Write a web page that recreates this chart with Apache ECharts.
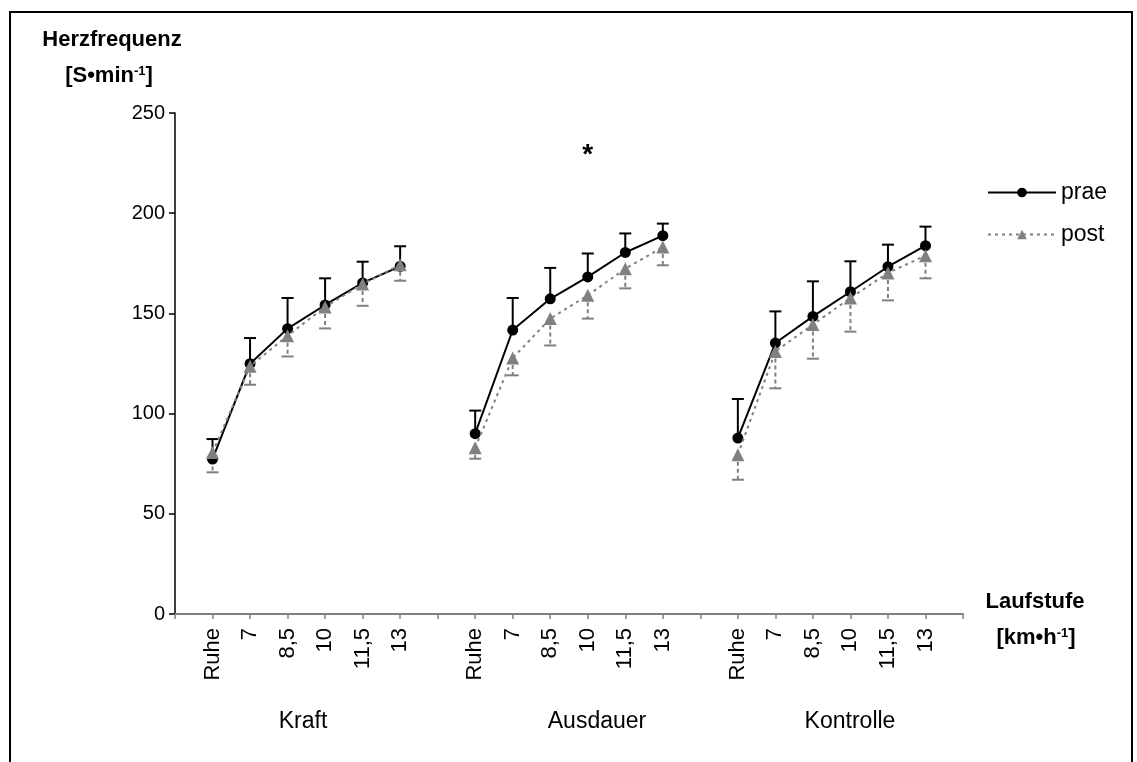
<!DOCTYPE html>
<html>
<head>
<meta charset="utf-8">
<script src="https://cdn.jsdelivr.net/npm/echarts@6/dist/echarts.min.js"></script>
<style>
  html, body { margin: 0; padding: 0; background: #fff; }
  #chart { width: 1137px; height: 762px; }
</style>
</head>
<body>
<div id="chart"></div>
<script>
// Gruppen und Laufstufen
var groups = ["Kraft", "Ausdauer", "Kontrolle"];
var stages = ["Ruhe", "7", "8,5", "10", "11,5", "13"];

// Mittelwerte prae / post je Gruppe (Herzfrequenz)
var praeKraft = [77.3, 124.9, 142.4, 154.2, 165.2, 173.5];
var postKraft = [80.6, 123.6, 138.9, 153.2, 164.7, 174.3];
var praeAusdauer = [90.0, 141.7, 157.3, 168.2, 180.4, 188.8];
var postAusdauer = [83.0, 127.7, 147.4, 159.0, 172.3, 183.1];
var praeKontrolle = [87.8, 135.2, 148.5, 160.8, 173.3, 183.8];
var postKontrolle = [79.5, 131.0, 144.4, 157.7, 170.2, 178.8];

// Standardabweichungen (prae nach oben, post nach unten)
var praeSdKraft = [10.0, 12.8, 15.3, 13.3, 10.6, 10.0];
var postSdKraft = [9.9, 9.2, 10.4, 10.7, 10.9, 8.0];
var praeSdAusdauer = [11.5, 16.0, 15.4, 11.7, 9.5, 6.0];
var postSdAusdauer = [5.5, 8.6, 13.4, 11.6, 9.8, 9.1];
var praeSdKontrolle = [19.5, 15.8, 17.5, 15.2, 11.0, 9.5];
var postSdKontrolle = [12.5, 18.4, 17.0, 16.8, 13.7, 11.3];

var yTicks = [0, 50, 100, 150, 200, 250];

// Signifikanz-Stern: Ausdauer, Laufstufe 10
var starGroup = 1, starStage = 3, starValue = 229;

var FONT = "Liberation Sans, Arial, sans-serif";

// Kategorien mit Leerstellen zwischen den Gruppen
var categories = [""];
groups.forEach(function () {
  stages.forEach(function (s) { categories.push(s); });
  categories.push("");
});

function spread(lists) {
  var out = [null];
  lists.forEach(function (l) {
    l.forEach(function (v) { out.push(v); });
    out.push(null);
  });
  return out;
}
function errData(lists, sds) {
  var out = [];
  lists.forEach(function (l, g) {
    l.forEach(function (v, i) {
      out.push([1 + g * (stages.length + 1) + i, v, sds[g][i]]);
    });
  });
  return out;
}

var praeData = spread([praeKraft, praeAusdauer, praeKontrolle]);
var postData = spread([postKraft, postAusdauer, postKontrolle]);
var praeErr = errData([praeKraft, praeAusdauer, praeKontrolle], [praeSdKraft, praeSdAusdauer, praeSdKontrolle]);
var postErr = errData([postKraft, postAusdauer, postKontrolle], [postSdKraft, postSdAusdauer, postSdKontrolle]);

function errorBar(dir, color, dash) {
  return function (params, api) {
    var x = api.value(0), v = api.value(1), sd = api.value(2);
    var p0 = api.coord([x, v]);
    var p1 = api.coord([x, v + dir * sd]);
    return {
      type: "group",
      children: [
        { type: "line", shape: { x1: p0[0], y1: p0[1], x2: p1[0], y2: p1[1] },
          style: { stroke: color, lineWidth: 2, lineDash: dash } },
        { type: "line", shape: { x1: p1[0] - 6, y1: p1[1], x2: p1[0] + 6, y2: p1[1] },
          style: { stroke: color, lineWidth: 2 } }
      ]
    };
  };
}

var chart = echarts.init(document.getElementById("chart"));

var option = {
  animation: false,
  backgroundColor: "#fff",
  textStyle: { fontFamily: FONT },
  grid: { left: 175, top: 113, width: 788, height: 501 },
  legend: {
    data: ["prae", "post"],
    orient: "vertical",
    left: 982,
    top: 176,
    itemWidth: 68,
    itemHeight: 12,
    itemGap: 19,
    textStyle: { fontSize: 23, color: "#000", fontFamily: FONT }
  },
  xAxis: {
    type: "category",
    data: categories,
    boundaryGap: false,
    axisLine: { lineStyle: { color: "#808080", width: 2 } },
    axisTick: { length: 5, lineStyle: { color: "#808080", width: 1.5 }, interval: 0 },
    axisLabel: { interval: 0, rotate: 90, fontSize: 22, color: "#000", margin: 14, fontFamily: FONT },
    splitLine: { show: false }
  },
  yAxis: {
    type: "value",
    min: yTicks[0],
    max: yTicks[yTicks.length - 1],
    interval: yTicks[1] - yTicks[0],
    axisLine: { show: true, lineStyle: { color: "#000", width: 1.5 } },
    axisTick: { show: true, length: 6, lineStyle: { color: "#000", width: 1.5 } },
    axisLabel: { fontSize: 20, color: "#000", margin: 10, fontFamily: FONT },
    splitLine: { show: false }
  },
  series: [
    {
      name: "praeErr",
      type: "custom",
      renderItem: errorBar(1, "#000", null),
      data: praeErr,
      encode: { x: 0, y: 1 },
      z: 1,
      silent: true
    },
    {
      name: "postErr",
      type: "custom",
      renderItem: errorBar(-1, "#808080", [4, 3]),
      data: postErr,
      encode: { x: 0, y: 1 },
      z: 1,
      silent: true
    },
    {
      name: "prae",
      type: "line",
      data: praeData,
      color: "#000",
      symbol: "circle",
      symbolSize: 11,
      lineStyle: { color: "#000", width: 2 },
      itemStyle: { color: "#000" },
      z: 3
    },
    {
      name: "post",
      type: "line",
      data: postData,
      color: "#808080",
      symbol: "triangle",
      symbolSize: 13,
      lineStyle: { color: "#808080", width: 2, type: [3, 4] },
      itemStyle: { color: "#808080" },
      z: 4
    }
  ]
};

chart.setOption(option);

var starPos = chart.convertToPixel({ gridIndex: 0 }, [1 + starGroup * (stages.length + 1) + starStage, starValue]);

chart.setOption({
  graphic: [
    { type: "rect", shape: { x: 10, y: 12, width: 1122, height: 780 },
      style: { fill: "none", stroke: "#000", lineWidth: 2 }, silent: true },
    { type: "text", x: 112, y: 40,
      style: { text: "Herzfrequenz", font: "bold 22px " + FONT, fill: "#000", align: "center", verticalAlign: "middle" } },
    { type: "text", x: 109, y: 76,
      style: { text: "[S•min{sup|-1}]", font: "bold 22px " + FONT, fill: "#000", align: "center", verticalAlign: "middle",
        rich: { sup: { font: "bold 13px " + FONT, verticalAlign: "top" } } } },
    { type: "text", x: 1035, y: 602,
      style: { text: "Laufstufe", font: "bold 22px " + FONT, fill: "#000", align: "center", verticalAlign: "middle" } },
    { type: "text", x: 1036, y: 638,
      style: { text: "[km•h{sup|-1}]", font: "bold 22px " + FONT, fill: "#000", align: "center", verticalAlign: "middle",
        rich: { sup: { font: "bold 13px " + FONT, verticalAlign: "top" } } } },
    { type: "text", x: 303, y: 722,
      style: { text: groups[0], font: "23px " + FONT, fill: "#000", align: "center", verticalAlign: "middle" } },
    { type: "text", x: 597, y: 722,
      style: { text: groups[1], font: "23px " + FONT, fill: "#000", align: "center", verticalAlign: "middle" } },
    { type: "text", x: 850, y: 722,
      style: { text: groups[2], font: "23px " + FONT, fill: "#000", align: "center", verticalAlign: "middle" } },
    { type: "text", x: starPos[0], y: starPos[1],
      style: { text: "*", font: "bold 28px " + FONT, fill: "#000", align: "center", verticalAlign: "middle" } }
  ]
});
</script>
</body>
</html>
